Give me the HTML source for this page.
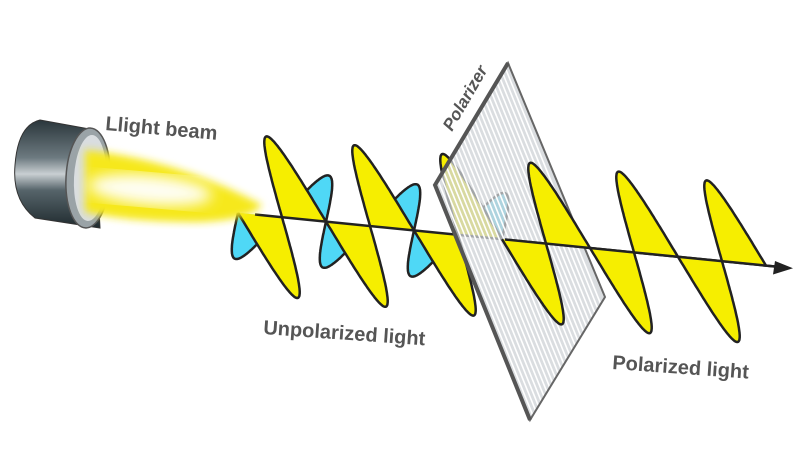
<!DOCTYPE html>
<html><head><meta charset="utf-8"><style>
html,body{margin:0;padding:0;background:#fff;width:800px;height:469px;overflow:hidden}
svg{display:block}
text{font-family:"Liberation Sans",sans-serif;fill:#555;font-weight:bold}
</style></head><body>
<svg id="s" width="800" height="469" viewBox="0 0 800 469" xmlns="http://www.w3.org/2000/svg">
<defs>
<linearGradient id="cyl" x1="0" y1="0" x2="0" y2="1">
<stop offset="0" stop-color="#2a363b"/><stop offset="0.35" stop-color="#6d7a80"/><stop offset="0.5" stop-color="#c9cfd2"/><stop offset="0.65" stop-color="#56646a"/><stop offset="1" stop-color="#1f2a2e"/>
</linearGradient>
<filter id="bl"><feGaussianBlur stdDeviation="4"/></filter>
<filter id="bl2"><feGaussianBlur stdDeviation="7"/></filter>
</defs>
<g id="back"></g>
<!-- lamp -->
<path d="M40 120 L95 130 L100 228 L35 218 Q12 200 15 165 Q18 125 40 120Z" fill="url(#cyl)" stroke="#333" stroke-width="1"/>
<ellipse cx="88" cy="178" rx="22" ry="50" transform="rotate(3 88 178)" fill="#9aa3a7" stroke="#555" stroke-width="1.5"/>
<ellipse cx="90" cy="178" rx="16" ry="43" transform="rotate(3 90 178)" fill="#d9dde0"/>
<path d="M85 150 Q180 160 262 205 Q250 220 200 222 Q130 222 85 212 Z" fill="#f6e81a" filter="url(#bl)"/>
<ellipse cx="150" cy="190" rx="62" ry="15" transform="rotate(5 150 190)" fill="#fff" opacity="0.95" filter="url(#bl2)"/>
<g id="pol"></g>
<g id="front"></g>
<text x="105" y="130" font-size="20" transform="rotate(5 105 130)">Llight beam</text>
<text x="263" y="334" font-size="20" transform="rotate(4 263 334)">Unpolarized light</text>
<text x="612" y="369" font-size="20" transform="rotate(4 612 369)">Polarized light</text>
<text x="452" y="132" font-size="17" font-style="italic" transform="rotate(-60 452 132)">Polarizer</text>
</svg>
<script>
var NS="http://www.w3.org/2000/svg";
function ay(x){return 215+0.1*(x-260);}
var L=88,zc=282;
function pt(z,vx,vy){var s=Math.sin(2*Math.PI*(z-zc)/L);return [z+s*vx,ay(z)+s*vy];}
function lobe(g,z0,z1,vx,vy,fill,op){
 var p=[];for(var z=z0;z<=z1+0.01;z+=0.5){var q=pt(z,vx,vy);p.push(q[0].toFixed(1)+","+q[1].toFixed(1));}
 var f=[];for(var z=z1;z>=z0-0.01;z-=2){f.push(z.toFixed(1)+","+ay(z).toFixed(1));}
 var a=document.createElementNS(NS,"polygon");a.setAttribute("points",p.concat(f).join(" "));a.setAttribute("fill",fill);if(op)a.setAttribute("opacity",op);g.appendChild(a);
 var l=document.createElementNS(NS,"polyline");l.setAttribute("points",p.join(" "));l.setAttribute("fill","none");l.setAttribute("stroke","#222");l.setAttribute("stroke-width","2.5");l.setAttribute("stroke-linejoin","round");if(op)l.setAttribute("opacity",op);g.appendChild(l);
}
var back=document.getElementById("back"),front=document.getElementById("front"),pol=document.getElementById("pol");
lobe(back,238,502,24,-44,"#4fd8f6");
lobe(back,238,502,-37,-83,"#f6ee00");
var ln=document.createElementNS(NS,"line");ln.setAttribute("x1",255);ln.setAttribute("y1",ay(255));ln.setAttribute("x2",780);ln.setAttribute("y2",ay(780));ln.setAttribute("stroke","#222");ln.setAttribute("stroke-width","2.5");back.appendChild(ln);
var P=[[435,185],[508,63],[605,297],[530,420]];
var pg=document.createElementNS(NS,"polygon");pg.setAttribute("points",P.map(function(a){return a.join(",")}).join(" "));pg.setAttribute("fill","#cdd2d6");pg.setAttribute("fill-opacity","0.75");pol.appendChild(pg);
var n=26;
for(var i=1;i<n;i++){var t=i/n;var x0=435+73*t,y0=185-122*t;var x1=x0+95,y1=y0+235;
 var s=document.createElementNS(NS,"line");s.setAttribute("x1",x0);s.setAttribute("y1",y0);s.setAttribute("x2",x1);s.setAttribute("y2",y1);s.setAttribute("stroke","#fff");s.setAttribute("stroke-width","1.6");pol.appendChild(s);}
var pb=document.createElementNS(NS,"polygon");pb.setAttribute("points",P.map(function(a){return a.join(",")}).join(" "));pb.setAttribute("fill","none");pb.setAttribute("stroke","#666");pb.setAttribute("stroke-width","2");pol.appendChild(pb);
var ed=document.createElementNS(NS,"polyline");ed.setAttribute("points","530,420 435,185 508,63");ed.setAttribute("fill","none");ed.setAttribute("stroke","#555");ed.setAttribute("stroke-width","4");pol.appendChild(ed);
lobe(front,502,766,-37,-83,"#f6ee00");
var ln2=document.createElementNS(NS,"line");ln2.setAttribute("x1",505);ln2.setAttribute("y1",ay(505));ln2.setAttribute("x2",778);ln2.setAttribute("y2",ay(778));ln2.setAttribute("stroke","#222");ln2.setAttribute("stroke-width","2.5");front.appendChild(ln2);
var ah=document.createElementNS(NS,"polygon");ah.setAttribute("points","793,268.3 773,274.5 775,261");ah.setAttribute("fill","#222");front.appendChild(ah);
</script>
</body></html>
